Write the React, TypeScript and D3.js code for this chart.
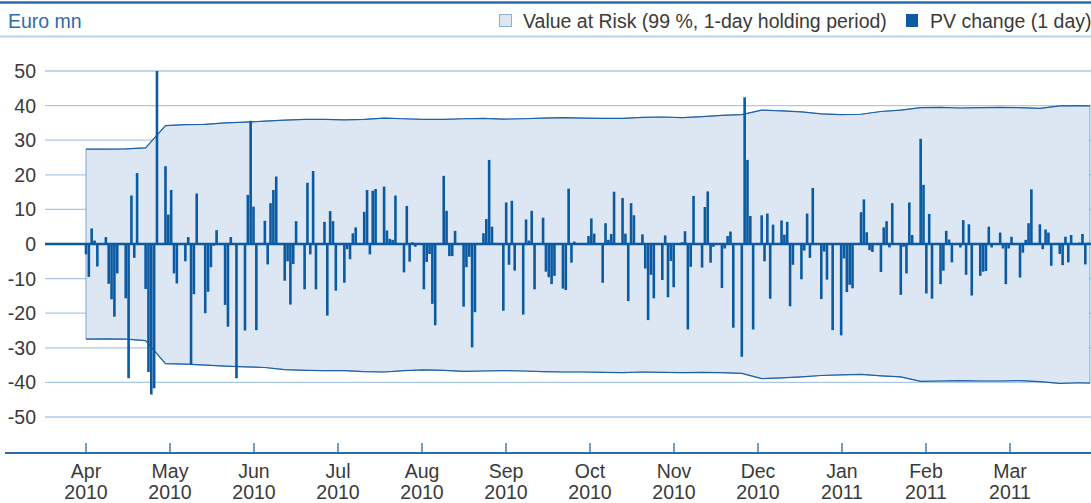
import React, { useEffect } from "react";
import * as d3 from "d3";

// ---- data ----
const months = ["Apr", "May", "Jun", "Jul", "Aug", "Sep", "Oct", "Nov", "Dec", "Jan", "Feb", "Mar"];
const years = ["2010", "2010", "2010", "2010", "2010", "2010", "2010", "2010", "2010", "2011", "2011", "2011"];
const yTicks = [50, 40, 30, 20, 10, 0, -10, -20, -30, -40, -50];

// daily PV change (Euro mn), one row per trading week (Mon..Fri)
const pvChange: number[][] = [
  [-3, -9.5, 4.5, 1, -6.5],
  [2, -11.5, -16, -21, -8.5],
  [-15.7, -38.8, 14, -4, 20.5],
  [-13, -37, -43.5, -41.7, 50],
  [22.5, 8.5, 15.6, -8.5, -11.4],
  [-5, 2, -34.7, -14.5, 14.6],
  [-20, -13.8, -6.7, -0.5, 4],
  [-17.6, -23.9, 2, 0, -38.8],
  [-25, 14.2, 35.6, 10.8, -24.9],
  [6.7, -5.9, 11.8, 15.6, 19.5],
  [-10.6, -5, -17.5, -5.8, 6.6],
  [-13.1, 17.7, -3, 21.1, -13.1],
  [6.4, -20.7, 9.5, 6.6, -13.5],
  [-11.2, -1.5, -4.4, 3.1, 4.8],
  [9.3, 15.6, -3, 15.4, 15.9],
  [16.6, 3.9, 1.5, 1.2, 14],
  [-8.2, 11, -5.1, 0.5, -0.8],
  [-13.1, -5.2, -2.9, -17.3, -23.5],
  [19.7, 9.6, -3.5, -3.5, 3.8],
  [-18.1, -6.7, -3.7, -29.9, -19.7],
  [3.1, 7.2, 24.3, 5, 0.3],
  [-19.3, 12, -6, 12.5, -7.7],
  [-20.4, 7.1, 1, 9.6, -13.1],
  [7.6, -8, -9.6, -11.6, -9.2],
  [-12.9, -13.3, 16, -5.4, 0.7],
  [0.3, -0.3, 2.3, 7.4, 3],
  [-11.2, 6, 1.2, 2.9, 15.1],
  [13.3, 3, -16.5, 11.8, 8.3],
  [2.8, -7.1, -22, -8.9, -15.7],
  [-10.4, 2.5, -15.4, -4.9, -12.5],
  [0.5, 3.7, -24.7, -6.6, 13.9],
  [-6.8, 10.7, 15.2, -5.4, -0.8],
  [-12.7, -1.3, 2.3, 3.6, -24.2],
  [-32.6, 42.4, 24.3, 8.1, -24.7],
  [8.3, -5, 8.8, -15.8, 5.6],
  [6.8, 2.7, 6.4, -18, -6],
  [-10.2, -1.9, 8.8, -4, 16.2],
  [-15.9, -2.2, -10.3, 0, -24.9],
  [-26.4, -4.2, -13.9, -11.8, -12.8],
  [9.2, 12.9, 3.4, -1.8, -2.3],
  [-8.1, 4.8, 6.6, -1, 11.8],
  [-14.7, -0.8, -8.5, 12, 2.6],
  [30.4, 17.1, -14.3, 8.7, -15.8],
  [-11.6, -7.7, 3.8, 1.3, -5.3],
  [-1, 6.9, -8.9, 5.7, -14.9],
  [-9.2, -8, -7.8, 5, -1],
  [3.3, -1.3, -11.6, -1.3, 2.1],
  [-9.7, -2.5, 1.2, 6, 15.8],
  [5.7, -1.5, 4.2, 3.3, -6.3],
  [-2.9, -6.1, 2.1, -5.3, 2.6],
  [0.4, 2.9, -5.9, 0.4],
];

// Value at Risk band, weekly readings (+ closing value)
const varUpper = [
  27.4, 27.4, 27.5, 27.8, 34.2, 34.5, 34.6, 35, 35.2, 35.5, 35.8, 36, 36, 35.9, 36, 36.4, 36.2,
  36, 36, 36.2, 36.3, 36.1, 36.2, 36.4, 36.5, 36.4, 36.3, 36.3, 36.6, 36.7, 36.5, 36.8, 37.2,
  37.4, 38.7, 38.5, 38.2, 37.6, 37.4, 37.5, 38.3, 38.7, 39.4, 39.5, 39.3, 39.4, 39.5, 39.4,
  39.2, 39.9, 40, 39.9,
];
const varLower = [
  -27.5, -27.4, -27.5, -27.9, -34.6, -34.7, -35, -35.3, -35.5, -35.7, -36.3, -36.5, -36.6,
  -36.6, -36.9, -37, -36.6, -36.4, -36.5, -36.8, -36.7, -36.6, -36.7, -36.9, -37, -37, -37.1,
  -37.2, -37, -37.1, -37.2, -37.1, -37.2, -37.4, -38.9, -38.7, -38.4, -38, -37.8, -37.7,
  -38.1, -38.4, -39.7, -39.6, -39.5, -39.6, -39.6, -39.5, -39.8, -40.3, -40.1, -40.2,
];

const W = 1091;
const H = 503;
const FONT = "'Liberation Sans', Arial, Helvetica, sans-serif";
const FS = 19.5;
const BAR = "#0b5aa2";
const GRID = "#a9c8e8";
const TXT = "#3a3a3a";

export default function App() {
  useEffect(() => {
    document.body.style.margin = "0";
  }, []);

  const y = d3.scaleLinear().domain([-50, 50]).range([417, 71]);
  const lastSlot = 353.6;
  const x = d3.scaleLinear().domain([0, 354]).range([86, 1091]);
  const xMonth = d3.scaleLinear().domain([0, 12]).range([86, 1094]);

  const bars: { slot: number; v: number }[] = [];
  pvChange.forEach((week, w) => {
    week.forEach((v, d) => bars.push({ slot: w * 7 + d, v }));
  });

  const band = varUpper.map((u, i) => ({
    slot: Math.min(i * 7, lastSlot),
    u,
    l: varLower[i],
  }));
  const area = d3
    .area<{ slot: number; u: number; l: number }>()
    .x((d) => x(d.slot))
    .y0((d) => y(d.l))
    .y1((d) => y(d.u));
  const upperLine = d3
    .line<{ slot: number; u: number; l: number }>()
    .x((d) => x(d.slot))
    .y((d) => y(d.u));
  const lowerLine = d3
    .line<{ slot: number; u: number; l: number }>()
    .x((d) => x(d.slot))
    .y((d) => y(d.l));

  const bw = 2.6;

  return (
    <svg
      width={W}
      height={H}
      style={{ display: "block", position: "absolute", left: 0, top: 0 }}
      fontFamily={FONT}
    >
      {/* header */}
      <line x1={0} x2={W} y1={2.5} y2={2.5} stroke="#2b6cab" strokeWidth={2.5} />
      <line x1={0} x2={W} y1={36.5} y2={36.5} stroke="#b9d1ea" strokeWidth={2} />
      <text x={8} y={28} fontSize={FS} fill="#2b6cab">
        Euro mn
      </text>
      <rect x={499.5} y={14.5} width={12} height={12} fill="#dde7f4" stroke="#8fb0d4" strokeWidth={1} />
      <text x={523} y={28} fontSize={FS} fill={TXT}>
        Value at Risk (99 %, 1-day holding period)
      </text>
      <rect x={906} y={14} width={12} height={13} fill={BAR} />
      <text x={930} y={28} fontSize={FS} fill={TXT}>
        PV change (1 day)
      </text>

      {/* grid */}
      {yTicks.map((t) => (
        <g key={t}>
          <line x1={45} x2={W} y1={y(t)} y2={y(t)} stroke={GRID} strokeWidth={1.3} />
          <text x={36} y={y(t) + 7} fontSize={FS} fill={TXT} textAnchor="end">
            {t}
          </text>
        </g>
      ))}

      {/* VaR band */}
      <path d={area(band) || ""} fill="#dde7f4" stroke="#7ea6d2" strokeWidth={1} />
      <path d={upperLine(band) || ""} fill="none" stroke="#1f62a6" strokeWidth={1.2} />
      <path d={lowerLine(band) || ""} fill="none" stroke="#1f62a6" strokeWidth={1.2} />

      {/* PV change bars */}
      {bars.map((b, i) => (
        <rect
          key={i}
          x={x(b.slot) - bw / 2}
          width={bw}
          y={Math.min(y(b.v), y(0))}
          height={Math.abs(y(b.v) - y(0))}
          fill={BAR}
        />
      ))}
      <line x1={45} x2={W} y1={y(0)} y2={y(0)} stroke={BAR} strokeWidth={2.6} />

      {/* x axis */}
      <line x1={5} x2={W} y1={453} y2={453} stroke="#2b6cab" strokeWidth={2} />
      {months.map((m, i) => (
        <g key={m}>
          <line x1={xMonth(i)} x2={xMonth(i)} y1={443} y2={453} stroke="#2b6cab" strokeWidth={1.3} />
          <text x={xMonth(i)} y={478} fontSize={FS} fill={TXT} textAnchor="middle">
            {m}
          </text>
          <text x={xMonth(i)} y={499} fontSize={FS} fill={TXT} textAnchor="middle">
            {years[i]}
          </text>
        </g>
      ))}
    </svg>
  );
}
